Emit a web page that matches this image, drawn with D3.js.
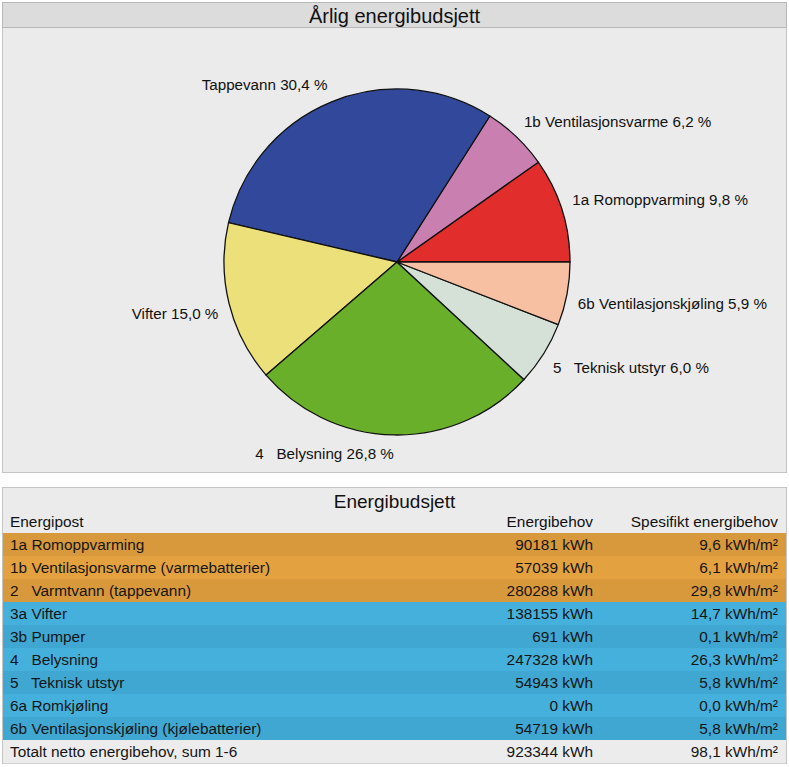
<!DOCTYPE html>
<html><head><meta charset="utf-8">
<script src="https://cdn.jsdelivr.net/npm/d3@7"></script>
<style>
html,body{margin:0;padding:0;background:#fff;}
svg text{font-family:"Liberation Sans",Arial,sans-serif;white-space:pre;}
</style></head>
<body><svg id="c" width="789" height="767"></svg>
<script>
// ---- data ----
const pieLabels = ["1a Romoppvarming", "1b Ventilasjonsvarme", "Tappevann", "Vifter", "4   Belysning", "5   Teknisk utstyr", "6b Ventilasjonskjøling"];
const pieShares = [9.8, 6.2, 30.4, 15.0, 26.8, 6.0, 5.9];
const pieColors = ["#e22d2d", "#c980b1", "#32489a", "#ece07a", "#6aaf2a", "#d5e1d7", "#f8c0a2"];

const tableRows = ["1a Romoppvarming", "1b Ventilasjonsvarme (varmebatterier)", "2   Varmtvann (tappevann)", "3a Vifter", "3b Pumper", "4   Belysning", "5   Teknisk utstyr", "6a Romkjøling", "6b Ventilasjonskjøling (kjølebatterier)"];
const energyKWh = [90181, 57039, 280288, 138155, 691, 247328, 54943, 0, 54719];
const specificKWh = [9.6, 6.1, 29.8, 14.7, 0.1, 26.3, 5.8, 0.0, 5.8];
const rowGroup = ["heat", "heat", "heat", "el", "el", "el", "el", "el", "el"];
const totalLabel = "Totalt netto energibehov, sum 1-6";
const totalKWh = 923344;
const totalSpecific = 98.1;
const headers = ["Energipost", "Energibehov", "Spesifikt energibehov"];

const loc = d3.formatLocale({decimal: ",", thousands: "", grouping: [3], currency: ["", ""]});
const f1 = loc.format(".1f");
const fInt = loc.format("d");

const svg = d3.select("#c");
const W = 789;

// ---- pie panel ----
const p1 = {x: 2, y: 2, w: 784, h: 470, titleH: 25};
svg.append("rect").attr("x", p1.x + .5).attr("y", p1.y + .5).attr("width", p1.w).attr("height", p1.h)
  .attr("fill", "#ebebeb").attr("stroke", "#c4c4c4");
svg.append("rect").attr("x", p1.x + .5).attr("y", p1.y + .5).attr("width", p1.w).attr("height", p1.titleH)
  .attr("fill", "#dcdcdc").attr("stroke", "#b8b8b8");
svg.append("text").attr("x", W / 2).attr("y", p1.y + p1.titleH / 2 + 1).attr("dy", "0.35em")
  .attr("text-anchor", "middle").attr("font-size", 20).attr("fill", "#111").text("Årlig energibudsjett");

const cx = 397, cy = 262, R = 173;
const pie = d3.pie().sort(null).value(d => d).startAngle(Math.PI / 2).endAngle(Math.PI / 2 - 2 * Math.PI);
const arcs = pie(pieShares);
const arc = d3.arc().innerRadius(0).outerRadius(R);
const g = svg.append("g").attr("transform", `translate(${cx},${cy})`);
g.selectAll("path").data(arcs).join("path")
  .attr("d", arc).attr("fill", (d, i) => pieColors[i])
  .attr("stroke", "#111").attr("stroke-width", 1.3).attr("stroke-linejoin", "round");

const lr = 184;
g.selectAll("text.lab").data(arcs).join("text").attr("class", "lab")
  .each(function (d, i) {
    const a = (d.startAngle + d.endAngle) / 2; // d3 angle: 0 at top, clockwise
    const x = Math.sin(a) * lr, y = -Math.cos(a) * lr;
    d3.select(this).attr("x", x).attr("y", y + (y < 0 ? -7 : 8)).attr("dy", "0.35em")
      .attr("text-anchor", x >= 0 ? "start" : "end");
  })
  .attr("font-size", 15.2).attr("fill", "#111")
  .text((d, i) => `${pieLabels[i]} ${f1(pieShares[i])} %`);

// ---- table panel ----
const t = {x: 2, y: 487, w: 784, h: 276};
svg.append("rect").attr("x", t.x + .5).attr("y", t.y + .5).attr("width", t.w).attr("height", t.h)
  .attr("fill", "#ebebeb").attr("stroke", "#c4c4c4");
svg.append("text").attr("x", W / 2).attr("y", 501).attr("dy", "0.35em").attr("text-anchor", "middle")
  .attr("font-size", 19).attr("fill", "#111").text("Energibudsjett");

const colX = [10, 593, 778];
const anchors = ["start", "end", "end"];
svg.selectAll("text.hdr").data(headers).join("text").attr("class", "hdr")
  .attr("x", (d, i) => colX[i]).attr("y", 522).attr("dy", "0.35em")
  .attr("text-anchor", (d, i) => anchors[i]).attr("font-size", 15.4).attr("fill", "#111").text(d => d);

const rowsAll = tableRows.map((name, i) => ({name, e: energyKWh[i], s: specificKWh[i], grp: rowGroup[i], i}))
  .concat([{name: totalLabel, e: totalKWh, s: totalSpecific, grp: "total", i: tableRows.length}]);
const y = d3.scaleBand().domain(rowsAll.map(d => d.i)).range([533, 763]).paddingInner(0);
const fills = {heat: ["#d8983c", "#e3a23f"], el: ["#3fa7d1", "#45b0db"], total: ["#ececec", "#ececec"]};
const rowFill = d => d.grp === "heat" ? (d.i % 2 === 0 ? fills.heat[0] : fills.heat[1])
  : d.grp === "el" ? (d.i % 2 === 0 ? fills.el[0] : fills.el[1]) : fills.total[0];

const rg = svg.selectAll("g.row").data(rowsAll).join("g").attr("class", "row")
  .attr("transform", d => `translate(0,${y(d.i)})`);
rg.append("rect").attr("x", 3).attr("width", 783).attr("height", y.bandwidth() + 0.3).attr("fill", rowFill);
rg.append("text").attr("x", colX[0]).attr("y", y.bandwidth() / 2).attr("dy", "0.35em")
  .attr("font-size", 15.4).attr("fill", "#151515").text(d => d.name);
rg.append("text").attr("x", colX[1]).attr("y", y.bandwidth() / 2).attr("dy", "0.35em").attr("text-anchor", "end")
  .attr("font-size", 15.4).attr("fill", "#151515").text(d => `${fInt(d.e)} kWh`);
rg.append("text").attr("x", colX[2]).attr("y", y.bandwidth() / 2).attr("dy", "0.35em").attr("text-anchor", "end")
  .attr("font-size", 15.4).attr("fill", "#151515").text(d => `${f1(d.s)} kWh/m²`);
</script></body></html>
